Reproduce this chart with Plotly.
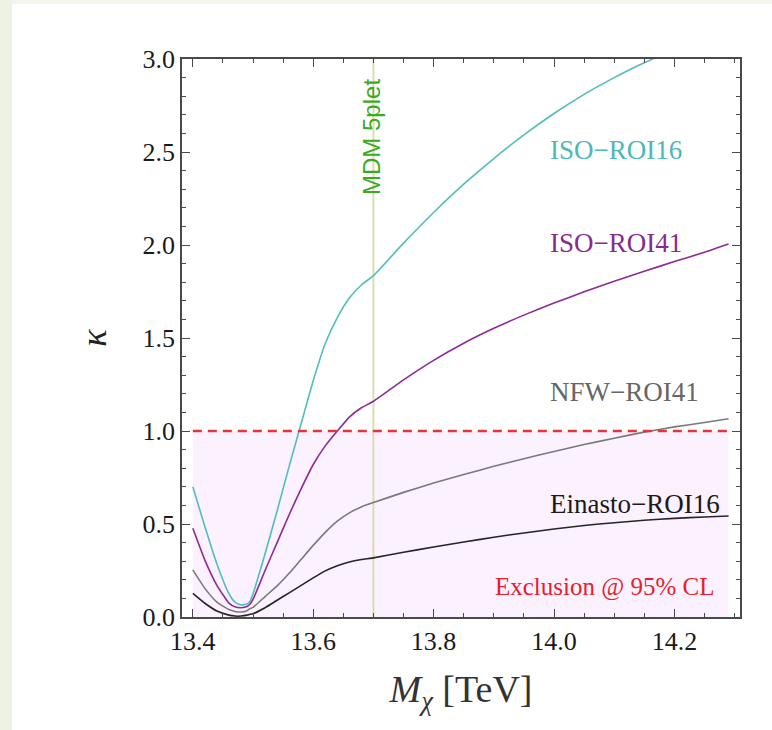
import plotly.graph_objects as go

# Dark-matter mass grid [TeV]
mass = [13.40, 13.42, 13.44, 13.46, 13.47, 13.48, 13.49, 13.495, 13.50, 13.52,
        13.54, 13.56, 13.58, 13.60, 13.62, 13.64, 13.66, 13.68, 13.70, 13.75,
        13.80, 13.85, 13.90, 13.95, 14.00, 14.05, 14.10, 14.15, 14.20, 14.25, 14.29]

# kappa for each halo profile / region of interest
iso_roi16 = [0.700, 0.486, 0.285, 0.125, 0.080, 0.065, 0.070, 0.085, 0.125, 0.340,
             0.570, 0.810, 1.040, 1.270, 1.470, 1.610, 1.715, 1.785, 1.835, 2.010,
             2.175, 2.327, 2.465, 2.592, 2.707, 2.810, 2.900, 2.980, 3.047, 3.100, 3.137]
iso_roi41 = [0.477, 0.306, 0.170, 0.075, 0.055, 0.050, 0.056, 0.070, 0.095, 0.250,
             0.400, 0.550, 0.690, 0.820, 0.920, 1.000, 1.075, 1.125, 1.160, 1.275,
             1.380, 1.472, 1.552, 1.623, 1.688, 1.748, 1.805, 1.859, 1.911, 1.961, 2.005]
nfw_roi41 = [0.253, 0.154, 0.080, 0.040, 0.030, 0.027, 0.034, 0.045, 0.052, 0.110,
             0.167, 0.235, 0.310, 0.385, 0.455, 0.515, 0.560, 0.592, 0.615, 0.670,
             0.720, 0.766, 0.810, 0.851, 0.890, 0.927, 0.961, 0.994, 1.022, 1.046, 1.066]
einasto_roi16 = [0.127, 0.074, 0.032, 0.010, 0.005, 0.005, 0.010, 0.015, 0.018, 0.050,
                 0.090, 0.130, 0.170, 0.210, 0.248, 0.276, 0.296, 0.309, 0.318, 0.348,
                 0.376, 0.403, 0.429, 0.452, 0.473, 0.492, 0.507, 0.520, 0.530, 0.538, 0.543]

series_names = ["ISO\u2212ROI16", "ISO\u2212ROI41", "NFW\u2212ROI41", "Einasto\u2212ROI16"]
series_values = [iso_roi16, iso_roi41, nfw_roi41, einasto_roi16]
series_colors = ["#52bdbd", "#8e2a96", "#7a7a7a", "#262626"]
label_colors = ["#4cb8b8", "#8a2a8e", "#666666", "#1a1a1a"]
label_y = [2.51, 2.01, 1.21, 0.61]

exclusion_level = 1.0
mdm_mass = 13.70
mass_min, mass_max = 13.40, 14.29

SERIF = "Liberation Serif, Times New Roman, serif"

fig = go.Figure()

for name, vals, col in zip(series_names, series_values, series_colors):
    fig.add_trace(go.Scatter(
        x=mass, y=vals, mode="lines", name=name,
        line=dict(color=col, width=1.6, shape="spline", smoothing=0.5),
        showlegend=False, hoverinfo="x+y+name"))

# 95% CL exclusion threshold
fig.add_trace(go.Scatter(
    x=[mass_min, mass_max], y=[exclusion_level, exclusion_level], mode="lines",
    line=dict(color="#e8333a", width=2.6, dash="9px,6px"),
    showlegend=False, hoverinfo="skip"))

shapes = [
    # excluded region
    dict(type="rect", xref="x", yref="y", x0=mass_min, x1=mass_max, y0=0, y1=exclusion_level,
         fillcolor="#fbf1ff", line=dict(width=0), layer="below"),
    # MDM 5-plet mass
    dict(type="line", xref="x", yref="y", x0=mdm_mass, x1=mdm_mass, y0=0, y1=3.0,
         line=dict(color="#dcdcb4", width=2), layer="below"),
    # page margin strips
    dict(type="rect", xref="paper", yref="paper", x0=-0.3262, x1=-0.3047, y0=-0.2025, y1=1.1057,
         fillcolor="#eef2e3", line=dict(width=0), layer="below"),
    dict(type="rect", xref="paper", yref="paper", x0=-0.3047, x1=1.06, y0=1.0985, y1=1.1057,
         fillcolor="#f3f6eb", line=dict(width=0), layer="below"),
]

annotations = []
for name, col, yv in zip(series_names, label_colors, label_y):
    annotations.append(dict(x=13.99, y=yv, xref="x", yref="y", text=name, showarrow=False,
                            xanchor="left", yanchor="middle",
                            font=dict(family=SERIF, size=27, color=col)))
annotations.append(dict(x=14.27, y=0.16, xref="x", yref="y", text="Exclusion @ 95% CL",
                        showarrow=False, xanchor="right", yanchor="middle",
                        font=dict(family=SERIF, size=25, color="#e8202a")))
annotations.append(dict(x=mdm_mass, y=2.583, xref="x", yref="y", text="MDM 5plet",
                        showarrow=False, textangle=-90, xanchor="center", yanchor="middle",
                        xshift=-2,
                        font=dict(family="Liberation Sans, Arial, sans-serif", size=24,
                                  color="#3caa1e")))

axis_common = dict(
    showline=True, linecolor="#4a4a4a", linewidth=1.5, mirror="allticks",
    ticks="inside", tickcolor="#4a4a4a", tickwidth=1.3, ticklen=8,
    showgrid=False, zeroline=False,
    tickfont=dict(family=SERIF, size=26, color="#1a1a1a"),
)

fig.update_layout(
    width=772, height=730,
    margin=dict(l=182, r=32, t=59, b=113),
    paper_bgcolor="white", plot_bgcolor="white",
    shapes=shapes, annotations=annotations,
    xaxis=dict(range=[13.382, 14.309], tickvals=[13.4, 13.6, 13.8, 14.0, 14.2],
               tickformat=".1f",
               minor=dict(dtick=0.05, tick0=13.4, ticks="inside", ticklen=4.5,
                          tickcolor="#4a4a4a", tickwidth=1.2),
               title=dict(text="<i>M</i><sub><i>\u03c7</i></sub> [TeV]", standoff=20,
                          font=dict(family=SERIF, size=38, color="#333333")),
               **axis_common),
    yaxis=dict(range=[0, 3.0], tickvals=[0, 0.5, 1.0, 1.5, 2.0, 2.5, 3.0],
               tickformat=".1f",
               minor=dict(dtick=0.1, tick0=0, ticks="inside", ticklen=4.5,
                          tickcolor="#4a4a4a", tickwidth=1.2),
               title=dict(text="<i>\u03ba</i>", standoff=25,
                          font=dict(family=SERIF, size=36, color="#222222")),
               **axis_common),
)

fig.write_html("out.html")
